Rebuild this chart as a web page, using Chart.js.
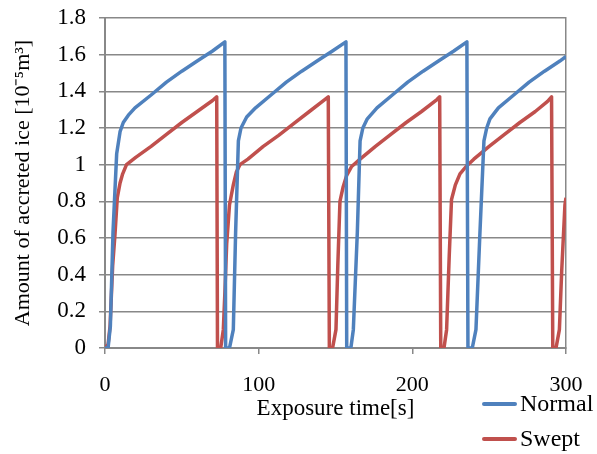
<!DOCTYPE html>
<html>
<head>
<meta charset="utf-8">
<script src="https://cdn.jsdelivr.net/npm/chart.js@4"></script>
<style>
  body { margin: 0; background: #fff; }
  .wrap { position: relative; width: 597px; height: 454px; }
  .legend { position: absolute; left: 482px; top: 386px; font-family: "Liberation Serif", serif; font-size: 24px; color: #000; }
  .legend div { height: 35px; display: flex; align-items: center; }
  .legend span.line { display: inline-block; width: 35px; height: 4px; margin-right: 3px; border-radius: 2px; }
</style>
</head>
<body>
<div class="wrap">
  <canvas class="my-chart" width="597" height="454"></canvas>
  <div class="legend">
    <div><span class="line" style="background:#4f81bd"></span>Normal</div>
    <div><span class="line" style="background:#c0504d"></span>Swept</div>
  </div>
</div>
<script>
// Normal: time [s] and accreted ice [10^-5 m^3]
const normalTime = [0, 2, 3.5, 5.2, 7.6, 9.8, 11.9, 15.2, 19.5, 30, 40, 50, 60, 70, 78, 78.5,
  81, 83.5, 85, 86.8, 88.5, 92.2, 98, 108, 118, 128, 138, 148, 156.8, 157.3,
  160, 161.6, 164.2, 166, 167.8, 170.7, 177, 187, 197, 207, 217, 227, 235.5, 236.2,
  239, 241.4, 244, 246.6, 248.4, 250.5, 256, 266, 276, 286, 296, 300];
const normalIce = [0, 0, 0.12, 0.63, 1.06, 1.18, 1.23, 1.27, 1.31, 1.38, 1.45, 1.51, 1.565, 1.62, 1.67, 0,
  0, 0.1, 0.63, 1.13, 1.2, 1.26, 1.31, 1.38, 1.45, 1.51, 1.565, 1.62, 1.67, 0,
  0, 0.1, 0.63, 1.13, 1.2, 1.25, 1.31, 1.38, 1.45, 1.51, 1.565, 1.62, 1.67, 0,
  0, 0.1, 0.63, 1.13, 1.2, 1.25, 1.31, 1.38, 1.45, 1.51, 1.565, 1.59];

// Swept
const sweptTime = [0, 2, 3.3, 5, 6.5, 8, 9.8, 11.5, 14, 20, 30, 40, 50, 60, 70, 72.7, 73.2,
  75.3, 77, 78, 79.2, 81, 83.5, 85.5, 87.8, 93, 103, 113, 123, 133, 143, 145.3, 146,
  148.1, 150.3, 151.5, 152.9, 155, 157.2, 160.5, 166, 176, 186, 196, 206, 216, 217.8, 218.5,
  220.6, 222.3, 224, 225.5, 228, 231, 235, 240, 250, 260, 270, 280, 288, 290.6, 291.4,
  293.5, 295.7, 297.2, 299.3, 300];
const sweptIce = [0, 0.02, 0.12, 0.45, 0.62, 0.82, 0.9, 0.95, 1.0, 1.04, 1.1, 1.165, 1.23, 1.29, 1.35, 1.37, 0,
  0, 0.1, 0.3, 0.57, 0.78, 0.89, 0.96, 1.0, 1.03, 1.1, 1.16, 1.225, 1.29, 1.355, 1.37, 0,
  0, 0.1, 0.45, 0.8, 0.88, 0.94, 0.99, 1.03, 1.1, 1.165, 1.23, 1.29, 1.355, 1.37, 0,
  0, 0.1, 0.5, 0.81, 0.89, 0.95, 0.99, 1.03, 1.1, 1.165, 1.23, 1.29, 1.345, 1.37, 0,
  0, 0.1, 0.42, 0.78, 0.82];

const xTicks = [0, 100, 200, 300];
const yTicks = [0, 0.2, 0.4, 0.6, 0.8, 1, 1.2, 1.4, 1.6, 1.8];

const toPoints = (t, v) => t.map((x, i) => ({ x: x, y: v[i] }));
const gridGray = "#888888";
const font = { family: "Liberation Serif", size: 22 };
const yFont = { family: "Liberation Serif", size: 23 };
const xTitleFont = { family: "Liberation Serif", size: 23 };

new Chart(document.querySelector(".my-chart"), {
  type: "line",
  data: {
    datasets: [
      { label: "Normal", data: toPoints(normalTime, normalIce), borderColor: "#4f81bd", borderWidth: 3.5 },
      { label: "Swept", data: toPoints(sweptTime, sweptIce), borderColor: "#c0504d", borderWidth: 3.5 },
    ],
  },
  options: {
    responsive: false,
    animation: false,
    layout: { padding: 0 },
    elements: { point: { radius: 0 }, line: { tension: 0, borderJoinStyle: "round" } },
    plugins: { legend: { display: false }, tooltip: { enabled: false } },
    scales: {
      x: {
        type: "linear",
        min: 0, max: 300,
        afterBuildTicks: (s) => { s.ticks = xTicks.map(v => ({ value: v })); },
        afterFit: (s) => { s.height = 106; s.paddingLeft = 0; s.paddingRight = 0; },
        ticks: { font: font, color: "#000", padding: 18, maxRotation: 0 },
        grid: { drawOnChartArea: false, drawTicks: true, tickLength: 6, color: gridGray, lineWidth: 1.5 },
        border: { color: gridGray, width: 2 },
        title: { display: true, text: "Exposure time[s]", font: xTitleFont, color: "#000", padding: { top: 0, bottom: 31 } },
      },
      y: {
        min: 0, max: 1.8,
        afterBuildTicks: (s) => { s.ticks = yTicks.map(v => ({ value: v })); },
        afterFit: (s) => { s.width = 105; s.paddingTop = 18; s.paddingBottom = 0; },
        ticks: { font: yFont, color: "#000", padding: 13, callback: (v) => String(+v.toFixed(1)) },
        grid: { color: gridGray, lineWidth: 1.5, tickLength: 6 },
        border: { color: gridGray, width: 2 },
        title: { display: true, text: "Amount of accreted ice [10\u207B\u2075m\u00B3]", font: font, color: "#000", padding: { top: 10, bottom: 0 } },
      },
      y2: {
        position: "right",
        min: 0, max: 1.8,
        afterFit: (s) => { s.width = 31; s.paddingTop = 18; s.paddingBottom = 0; },
        ticks: { display: false },
        grid: { drawOnChartArea: false, drawTicks: false },
        border: { color: gridGray, width: 1.5 },
      },
    },
  },
});
</script>
</body>
</html>
